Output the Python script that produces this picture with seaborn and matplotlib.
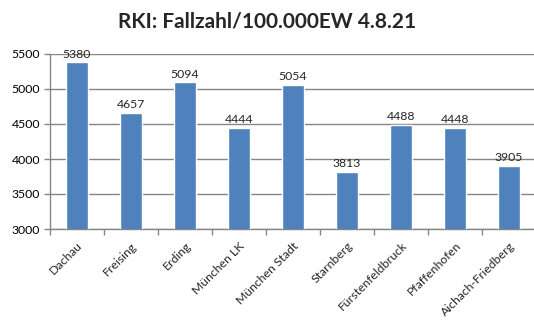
import matplotlib
matplotlib.use("Agg")
import matplotlib.pyplot as plt
import seaborn as sns
import pandas as pd

categories = ["Dachau", "Freising", "Erding", "München LK", "München Stadt",
              "Starnberg", "Fürstenfeldbruck", "Pfaffenhofen", "Aichach-Friedberg"]
values = [5380, 4657, 5094, 4444, 5054, 3813, 4488, 4448, 3905]
yticks = [3000, 3500, 4000, 4500, 5000, 5500]
title = "RKI: Fallzahl/100.000EW 4.8.21"

sns.set_theme(style="white")
plt.rcParams['font.family'] = ['Lato', 'DejaVu Sans']

df = pd.DataFrame({"cat": categories, "val": values})

fig = plt.figure(figsize=(5.34, 3.30), dpi=100)
ax = fig.add_axes([50/534, 1-229/330, 486/534, 175/330])
sns.barplot(data=df, x="cat", y="val", color="#4F81BD", width=0.4,
            saturation=1, ax=ax, zorder=3)
ax.set_ylim(3000, 5500)
ax.set_xlim(-0.5, len(categories)-0.5)
ax.set_yticks(yticks)
ax.set_yticklabels([str(t) for t in yticks], fontsize=8.8, color="black")
ax.set_xlabel("")
ax.set_ylabel("")
ax.yaxis.grid(True, color="#868686", linewidth=1, zorder=0)
ax.set_axisbelow(True)
for s in ["top", "right"]:
    ax.spines[s].set_visible(False)
for s in ["left", "bottom"]:
    ax.spines[s].set_color("#868686")
    ax.spines[s].set_linewidth(1)
ax.tick_params(axis="y", which="major", direction="out", length=4, color="#868686", width=1, left=True, pad=3)
ax.set_xticks(range(len(categories)))
ax.set_xticklabels(categories, rotation=45, ha="right", rotation_mode="anchor", fontsize=8.8)
ax.tick_params(axis="x", which="major", length=0, pad=8)
ax.set_xticks([i + 0.5 for i in range(-1, len(categories))], minor=True)
ax.tick_params(axis="x", which="minor", direction="out", length=4, color="#868686", width=1, bottom=True)

for i, v in enumerate(values):
    ax.text(i, v + 40, str(v), ha="center", va="bottom", fontsize=8.8, clip_on=False)

fig.text(0.5, 1-22/330, title, ha="center", va="center", fontsize=15, fontweight="bold")

fig.savefig("out.png", dpi=100)
